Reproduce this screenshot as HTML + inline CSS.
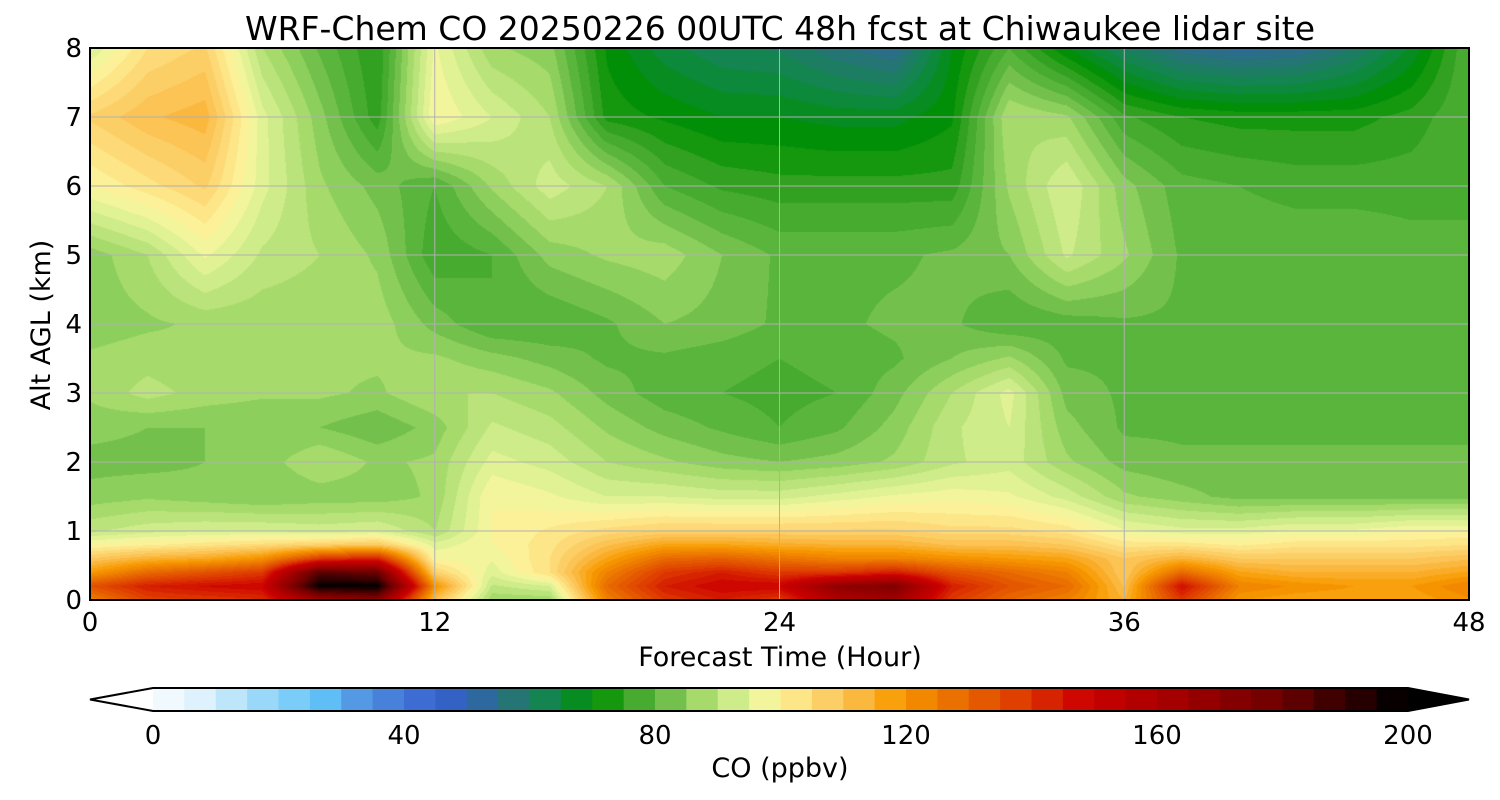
<!DOCTYPE html>
<html><head><meta charset="utf-8">
<style>
html,body{margin:0;padding:0;background:#fff;}
#wrap{position:relative;width:1500px;height:800px;overflow:hidden;font-family:"DejaVu Sans","Liberation Sans",sans-serif;}
canvas{position:absolute;left:90px;top:48px;}
svg{position:absolute;left:0;top:0;}
text{font-family:"DejaVu Sans","Liberation Sans",sans-serif;fill:#000;}
</style></head>
<body>
<div id="wrap">
<canvas id="cv" width="1379" height="552"></canvas>
<svg id="sv" width="1500" height="800"></svg>
</div>
<script>
const hours=[0,2,4,6,8,10,12,14,16,18,20,22,24,26,28,30,32,34,36,38,40,42,44,46,48];
const alts=[0,0.2,0.4,0.6,0.8,1,1.5,2,2.5,3,3.5,4,5,6,7,8];
const co0=[125,138,140,142,165,172,112,88,88,125,140,145,140,160,165,140,130,125,115,140,120,118,118,118,122];
const co02=[135,145,148,150,200,200,122,92,95,130,145,150,150,170,175,145,135,130,112,148,125,122,120,120,125];
const co04=[120,130,135,140,185,180,108,96,105,125,140,145,140,140,145,135,130,125,110,130,118,115,115,115,118];
const co06=[110,115,117,122,140,145,100,98,105,118,130,132,128,125,125,122,120,118,110,115,110,110,110,110,112];
const co08=[100,102,104,106,108,110,96,100,104,112,118,118,116,115,115,112,112,110,104,104,102,104,104,104,105];
const co10=[92,94,95,95,94,95,90,100,103,106,108,108,108,108,108,106,106,104,98,96,96,98,98,100,100];
const co15=[86,87,86,85,86,86,88,100,98,95,95,94,94,96,98,99,98,94,88,86,84,84,84,84,84];
const co20=[84,84,85,86,90,87,88,96,94,90,88,86,85,86,88,92,94,88,84,83,83,83,83,83,83];
const co25=[86,85,85,85,85,83,86,93,91,87,84,82,80,82,86,92,95,86,82,82,82,82,82,82,82];
const co30=[88,91,89,88,88,87,90,90,88,84,81,80,79,80,84,90,96,84,82,82,82,82,82,82,82];
const co35=[88,89,88,88,88,88,88,86,84,82,82,81,80,81,82,85,88,82,82,82,82,82,82,82,82];
const co40=[86,87,88,88,88,89,84,80,80,82,85,84,82,82,83,83,80,81,82,82,82,82,82,82,82];
const co50=[86,90,98,92,90,87,78,80,86,88,89,85,82,82,82,83,85,93,88,82,82,82,82,81,80];
const co60=[100,104,108,96,88,84,80,88,94,90,80,77,76,76,76,76,88,95,86,81,80,79,79,79,80];
const co70=[108,112,114,96,86,76,100,95,90,74,72,70,70,69,69,72,90,88,78,75,74,74,74,76,80];
const co80=[95,105,108,90,82,75,98,88,86,72,66,63,62,58,55,70,80,70,62,56,54,55,60,68,80];
const grid=[co0,co02,co04,co06,co08,co10,co15,co20,co25,co30,co35,co40,co50,co60,co70,co80];
const xTicks=[0,12,24,36,48];
const yTicks=[0,1,2,3,4,5,6,7,8];
const cbTicks=[0,40,80,120,160,200];
const stops=[[0,"#ffffff"],[10,"#d8f0fc"],[20,"#90d4f8"],[28,"#60c4f8"],[35,"#5090e0"],[45,"#3a68d0"],[50,"#3060c0"],[57,"#2a7080"],[65,"#108848"],[72,"#009000"],[76,"#30a020"],[82,"#60b840"],[88,"#a0d868"],[95,"#d8f090"],[100,"#fbf7a0"],[105,"#fde080"],[112,"#fcc050"],[120,"#f89a00"],[130,"#e86a00"],[140,"#de3a00"],[150,"#cc0000"],[165,"#a00000"],[180,"#700000"],[192,"#300000"],[200,"#000000"]];
const PX0=90,PX1=1469,PY0=48,PY1=600;
const xs=h=>PX0+(h-0)/48*(PX1-PX0);
const ys=a=>PY1-a/8*(PY1-PY0);
const CB0=153,CB1=1408;
const cbx=v=>CB0+v/200*(CB1-CB0);
function hex(c){return [parseInt(c.slice(1,3),16),parseInt(c.slice(3,5),16),parseInt(c.slice(5,7),16)];}
const st=stops.map(s=>[s[0],hex(s[1])]);
function cmap(v){
  v=Math.max(0,Math.min(200,v));
  for(let i=1;i<st.length;i++){if(v<=st[i][0]){const a=st[i-1],b=st[i];const t=(v-a[0])/(b[0]-a[0]);return [0,1,2].map(k=>Math.round(a[1][k]+t*(b[1][k]-a[1][k])));}}
  return st[st.length-1][1];
}
function qcol(v){const l=Math.floor(v/2.5)*2.5+1.25;return cmap(l);}
function interp(h,a){
  let i=0;while(i<hours.length-2&&h>hours[i+1])i++;
  let j=0;while(j<alts.length-2&&a>alts[j+1])j++;
  const tx=(h-hours[i])/(hours[i+1]-hours[i]),ty=(a-alts[j])/(alts[j+1]-alts[j]);
  const v00=grid[j][i],v10=grid[j][i+1],v01=grid[j+1][i],v11=grid[j+1][i+1];
  return (v00*(1-tx)+v10*tx)*(1-ty)+(v01*(1-tx)+v11*tx)*ty;
}
const cv=document.getElementById('cv'),ctx=cv.getContext('2d');
const W=cv.width,H=cv.height,img=ctx.createImageData(W,H);
for(let py=0;py<H;py++){
  const a=(PY1-(PY0+py+0.5))/(PY1-PY0)*8;
  for(let px=0;px<W;px++){
    const h=(px+0.5)/(PX1-PX0)*48;
    const c=qcol(interp(h,a));const o=(py*W+px)*4;
    img.data[o]=c[0];img.data[o+1]=c[1];img.data[o+2]=c[2];img.data[o+3]=255;
  }
}
ctx.putImageData(img,0,0);
const NS="http://www.w3.org/2000/svg",sv=document.getElementById('sv');
function mk(tag,at,txt){const e=document.createElementNS(NS,tag);for(const k in at)e.setAttribute(k,at[k]);if(txt!==undefined)e.textContent=txt;sv.appendChild(e);return e;}
for(const t of yTicks){
  const e=mk('line',{x1:PX0,x2:PX1,y1:ys(t),y2:ys(t),stroke:'#b0b0b0','stroke-width':1});
  
  
  const l=mk('text',{x:PX0-8,y:ys(t)+9,'text-anchor':'end','font-size':26},String(t));
  
  
}
for(const t of xTicks){
  const e=mk('line',{x1:xs(t),x2:xs(t),y1:PY0,y2:PY1,stroke:'#b0b0b0','stroke-width':1});
  
  
  const l=mk('text',{x:xs(t),y:PY1+31,'text-anchor':'middle','font-size':26},String(t));
  
  
}
const fr=mk('rect',{x:PX0,y:PY0,width:PX1-PX0,height:PY1-PY0,fill:'none',stroke:'#000','stroke-width':2});


const ti=mk('text',{x:780,y:40,'text-anchor':'middle','font-size':33,'xml:space':'preserve'},'WRF-Chem CO  20250226 00UTC 48h fcst at Chiwaukee lidar site');


const xl=mk('text',{x:780,y:666,'text-anchor':'middle','font-size':27},'Forecast Time (Hour)');


const yl=mk('text',{x:0,y:0,'text-anchor':'middle','font-size':27,transform:'translate(50,325) rotate(-90)'},'Alt AGL (km)');


const CY0=688,CY1=711;
const lt=mk('polygon',{points:`${CB0},${CY0} ${90},${(CY0+CY1)/2} ${CB0},${CY1}`,fill:'#ffffff'});


const rt=mk('polygon',{points:`${CB1},${CY0} ${1469},${(CY0+CY1)/2} ${CB1},${CY1}`,fill:'#000'});


for(let v=0;v<200;v+=5){
  const c=qcol(v+2.5);
  const r=mk('rect',{x:cbx(v),y:CY0,width:cbx(v+5)-cbx(v)+0.5,height:CY1-CY0,fill:`rgb(${c[0]},${c[1]},${c[2]})`});
  
  
}
const ob=mk('polygon',{points:`90,${(CY0+CY1)/2} ${CB0},${CY0} ${CB1},${CY0} 1469,${(CY0+CY1)/2} ${CB1},${CY1} ${CB0},${CY1}`,fill:'none',stroke:'#000','stroke-width':2});


for(const t of cbTicks){
  const l=mk('text',{x:cbx(t),y:744,'text-anchor':'middle','font-size':26},String(t));
  
  
}
const cl=mk('text',{x:780,y:777,'text-anchor':'middle','font-size':27,'xml:space':'preserve'},'CO  (ppbv)');


</script>
</body></html>
